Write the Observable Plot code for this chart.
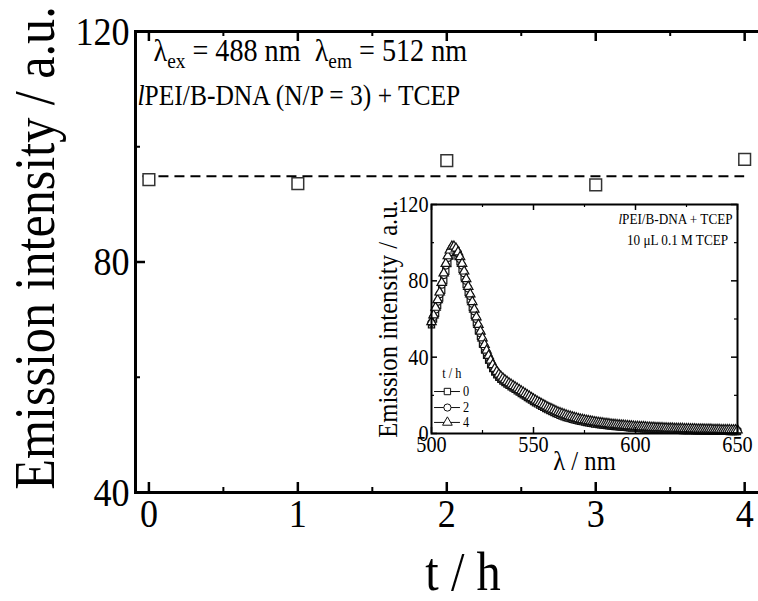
<!DOCTYPE html>
<html>
<head>
<meta charset="utf-8">
<script src="https://cdn.jsdelivr.net/npm/d3@7"></script>
<script src="https://cdn.jsdelivr.net/npm/@observablehq/plot@0.6"></script>
<style>
  body { margin: 0; background: white; }
  #wrap { position: relative; width: 758px; height: 601px; overflow: hidden; background: white; }
  #wrap svg { position: absolute; }
</style>
</head>
<body>
<div id="wrap"></div>
<script>
// ---------- Main chart data ----------
const timeH = [0, 1, 2, 3, 4];
const emission = [94.3, 93.6, 97.6, 93.4, 97.8];
const meanLevel = 94.9;
const xTickLabels = [0, 1, 2, 3, 4];
const yTickLabels = [40, 80, 120];

// ---------- Inset data (spectra) ----------
const wavelength = [500,501,502,503,504,505,506,507,508,509,510,511,512,513,514,515,516,517,518,519,
520,521,522,523,524,525,526,527,528,529,530,531,532,533,534,535,536,537,538,539,
540,541,542,543,544,545,546,547,548,549,550,551,552,553,554,555,556,557,558,559,
560,561,562,563,564,565,566,567,568,569,570,571,572,573,574,575,576,577,578,579,
580,581,582,583,584,585,586,587,588,589,590,591,592,593,594,595,596,597,598,599,
600,601,602,603,604,605,606,607,608,609,610,611,612,613,614,615,616,617,618,619,
620,621,622,623,624,625,626,627,628,629,630,631,632,633,634,635,636,637,638,639,
640,641,642,643,644,645,646,647,648,649,650];
const spec0h = [57,60,63,67,71,75,80,85,89,93,
95,96,95,93,90,86,82,78,74,70,
66,62,58,54,51,47,44,41,38.5,36,
34,32.2,30.7,29.5,28.4,27.5,26.7,25.9,25.2,24.5,
23.8,23.1,22.4,21.7,21,20.3,19.6,18.9,18.2,17.5,
16.8,16.1,15.5,14.9,14.3,13.7,13.1,12.5,12,11.5,
11,10.5,10,9.6,9.2,8.8,8.4,8.1,7.8,7.5,
7.2,6.9,6.7,6.4,6.2,6,5.8,5.6,5.4,5.2,
5,4.9,4.7,4.6,4.4,4.3,4.2,4,3.9,3.8,
3.7,3.6,3.5,3.4,3.3,3.2,3.1,3,2.9,2.8,
2.8,2.7,2.6,2.6,2.5,2.4,2.4,2.3,2.3,2.2,
2.2,2.1,2.1,2,2,1.9,1.9,1.9,1.8,1.8,
1.7,1.7,1.7,1.6,1.6,1.6,1.5,1.5,1.5,1.4,
1.4,1.4,1.4,1.3,1.3,1.3,1.3,1.2,1.2,1.2,
1.2,1.1,1.1,1.1,1.1,1.1,1,1,1,1,1];
const spec2h = [58,61,65,69,73,78,83,88,92,95,
97,97.5,96.5,94.5,91.5,88,84,80,76,72,
68,64,60,56,52.5,49,45.5,42.5,40,37.5,
35.3,33.4,31.8,30.5,29.4,28.4,27.6,26.8,26.1,25.4,
24.7,24,23.3,22.6,21.9,21.2,20.5,19.8,19.1,18.4,
17.7,17,16.4,15.8,15.2,14.6,14,13.4,12.9,12.4,
11.9,11.4,10.9,10.5,10.1,9.7,9.3,8.9,8.6,8.3,
8,7.7,7.4,7.1,6.9,6.7,6.5,6.3,6.1,5.9,
5.7,5.5,5.4,5.2,5.1,4.9,4.8,4.7,4.5,4.4,
4.3,4.2,4.1,4,3.9,3.8,3.7,3.6,3.5,3.4,
3.3,3.3,3.2,3.1,3.1,3,2.9,2.9,2.8,2.8,
2.7,2.7,2.6,2.6,2.5,2.5,2.4,2.4,2.4,2.3,
2.3,2.2,2.2,2.2,2.1,2.1,2.1,2,2,2,
1.9,1.9,1.9,1.9,1.8,1.8,1.8,1.8,1.7,1.7,
1.7,1.7,1.6,1.6,1.6,1.6,1.6,1.5,1.5,1.5,1.5];
const spec4h = [58.5,62,66,70,74,79,84,89,93,96,
98,98,97,95,92.5,89,85,81,77,73,
69,65,61,57,53.5,50,46.5,43.5,40.8,38.3,
36,34,32.4,31,29.9,28.9,28,27.2,26.4,25.7,
25,24.3,23.6,22.9,22.2,21.5,20.8,20.1,19.4,18.7,
18,17.3,16.7,16.1,15.5,14.9,14.3,13.7,13.2,12.7,
12.2,11.7,11.2,10.8,10.4,10,9.6,9.2,8.9,8.6,
8.3,8,7.7,7.4,7.2,7,6.8,6.6,6.4,6.2,
6,5.8,5.7,5.5,5.4,5.2,5.1,5,4.8,4.7,
4.6,4.5,4.4,4.3,4.2,4.1,4,3.9,3.8,3.7,
3.6,3.6,3.5,3.4,3.4,3.3,3.2,3.2,3.1,3.1,
3,3,2.9,2.9,2.8,2.8,2.7,2.7,2.7,2.6,
2.6,2.5,2.5,2.5,2.4,2.4,2.4,2.3,2.3,2.3,
2.2,2.2,2.2,2.2,2.1,2.1,2.1,2.1,2,2,
2,2,1.9,1.9,1.9,1.9,1.9,1.8,1.8,1.8,1.8];
const insetXTicks = [500, 550, 600, 650];
const insetYTicks = [0, 40, 80, 120];
const legendLabels = ["0", "2", "4"];
const legendSymbols = ["square", "circle", "triangle"];

// ---------- helpers ----------
const FONT = '"Liberation Serif", "Times New Roman", Times, serif';
const K = 0.88; // horizontal text compression of the original figure

function compress(svg) {
  svg.querySelectorAll("text").forEach(t => {
    let tr = t.getAttribute("transform");
    if (!tr) {
      const x = t.getAttribute("x");
      const xv = parseFloat(x);
      if (x != null && !/em$/.test(x) && !isNaN(xv)) {
        t.removeAttribute("x");
        tr = `translate(${xv},0)`;
      } else tr = "";
    }
    t.setAttribute("transform", `${tr} scale(${K},1)`.trim());
  });
}
function richText(svg, plain, parts) {
  svg.querySelectorAll("text").forEach(t => {
    if (t.textContent !== plain) return;
    t.textContent = "";
    t.style.whiteSpace = "pre";
    for (const p of parts) {
      const s = document.createElementNS("http://www.w3.org/2000/svg", "tspan");
      s.textContent = p.text;
      if (p.italic) s.setAttribute("font-style", "italic");
      if (p.size) s.setAttribute("font-size", p.size);
      if (p.dy) s.setAttribute("dy", p.dy);
      t.appendChild(s);
    }
  });
}

// ---------- main chart ----------
const FH = 461; // frame height in px (31..492)
const FW = 633; // frame width in px (135..768)
const mainPts = timeH.map((t, i) => ({t, v: emission[i]}));
const line1 = "λex = 488 nm  λem = 512 nm";
const line2 = "lPEI/B-DNA (N/P = 3) + TCEP";

const main = Plot.plot({
  width: 758, height: 601,
  marginLeft: 135, marginRight: -10, marginTop: 31, marginBottom: 109,
  x: {domain: [-0.09, 4.16]},
  y: {domain: [40, 120]},
  style: {fontFamily: FONT, fontSize: "41px", color: "black", background: "white"},
  marks: [
    Plot.frame({stroke: "black", strokeWidth: 3}),
    // inward ticks
    Plot.tickX(xTickLabels, {x: d => d, insetTop: FH - 10, stroke: "black", strokeWidth: 2.5}),
    Plot.tickX([0.5, 1.5, 2.5, 3.5], {x: d => d, insetTop: FH - 5, stroke: "black", strokeWidth: 2}),
    Plot.tickX(xTickLabels, {x: d => d, insetBottom: FH - 10, stroke: "black", strokeWidth: 2.5}),
    Plot.tickX([0.5, 1.5, 2.5, 3.5], {x: d => d, insetBottom: FH - 5, stroke: "black", strokeWidth: 2}),
    Plot.tickY([80], {y: d => d, insetRight: FW - 10, stroke: "black", strokeWidth: 2.5}),
    Plot.tickY([60, 100], {y: d => d, insetRight: FW - 5, stroke: "black", strokeWidth: 2}),
    Plot.axisX({ticks: xTickLabels, tickFormat: d => String(d), tickSize: 0, tickPadding: 5, label: null, fontSize: 41}),
    Plot.axisY({ticks: yTickLabels, tickFormat: d => String(d), tickSize: 0, tickPadding: 6, label: null, fontSize: 41}),
    // axis titles
    Plot.text(["t / h"], {frameAnchor: "bottom", textAnchor: "middle", dx: 11, dy: 80, fontSize: 55, lineAnchor: "middle"}),
    Plot.text(["Emission intensity / a.u."], {frameAnchor: "left", textAnchor: "middle", rotate: -90, dx: -100, dy: -14, fontSize: 57, lineAnchor: "middle"}),
    // annotations
    Plot.text([line1], {frameAnchor: "top-left", textAnchor: "start", dx: 18, dy: 19, fontSize: 32, lineAnchor: "middle"}),
    Plot.text([line2], {frameAnchor: "top-left", textAnchor: "start", dx: 2, dy: 64, fontSize: 29, lineAnchor: "middle"}),
    // data
    Plot.ruleY([meanLevel], {x1: -0.04, x2: 4, stroke: "black", strokeWidth: 2, strokeDasharray: "10,6"}),
    Plot.dot(mainPts, {x: "t", y: "v", symbol: "square", r: 6.6, stroke: "#333", strokeWidth: 1.5, fill: "white"})
  ]
});
main.style.left = "0px"; main.style.top = "0px";
document.getElementById("wrap").appendChild(main);
richText(main, line1, [
  {text: "λ"}, {text: "ex", size: "22px", dy: "7"}, {text: " = 488 nm  λ", dy: "-7"},
  {text: "em", size: "22px", dy: "7"}, {text: " = 512 nm", dy: "-7"}
]);
richText(main, line2, [{text: "l", italic: true}, {text: "PEI/B-DNA (N/P = 3) + TCEP"}]);
compress(main);

// ---------- inset ----------
const IH = 229, IW = 306;
const series = [
  {key: "0", sym: "square", vals: spec0h},
  {key: "2", sym: "circle", vals: spec2h},
  {key: "4", sym: "triangle", vals: spec4h}
];
const insetTxt1 = "lPEI/B-DNA + TCEP";
const insetTxt2 = "10 μL 0.1 M TCEP";
const legendRows = legendLabels.map((k, i) => ({k, sym: legendSymbols[i], y: [22, 13.6, 5.8][i]}));

const insetMarks = [
  Plot.frame({fill: "white", stroke: "none"}),
];
for (const s of series) {
  const pts = wavelength.map((w, i) => ({w, v: s.vals[i]}));
  insetMarks.push(Plot.dot(pts, {x: "w", y: "v", symbol: s.sym, r: 3.5, stroke: "#111", strokeWidth: 1.2, fill: "white"}));
}
insetMarks.push(
  Plot.frame({stroke: "black", strokeWidth: 2}),
  Plot.tickX(insetXTicks, {x: d => d, insetTop: IH - 6, stroke: "black", strokeWidth: 1.5}),
  Plot.tickX([525, 575, 625], {x: d => d, insetTop: IH - 3, stroke: "black", strokeWidth: 1.2}),
  Plot.tickX(insetXTicks, {x: d => d, insetBottom: IH - 6, stroke: "black", strokeWidth: 1.5}),
  Plot.tickX([525, 575, 625], {x: d => d, insetBottom: IH - 3, stroke: "black", strokeWidth: 1.2}),
  Plot.tickY(insetYTicks, {y: d => d, insetRight: IW - 6, stroke: "black", strokeWidth: 1.5}),
  Plot.tickY([20, 60, 100], {y: d => d, insetRight: IW - 3, stroke: "black", strokeWidth: 1.2}),
  Plot.tickY(insetYTicks, {y: d => d, insetLeft: IW - 6, stroke: "black", strokeWidth: 1.5}),
  Plot.tickY([20, 60, 100], {y: d => d, insetLeft: IW - 3, stroke: "black", strokeWidth: 1.2}),
  Plot.axisX({ticks: insetXTicks, tickFormat: d => String(d), tickSize: 0, tickPadding: 2, label: null, fontSize: 23}),
  Plot.axisY({ticks: insetYTicks, tickFormat: d => String(d), tickSize: 0, tickPadding: 3, label: null, fontSize: 23}),
  Plot.text(["λ / nm"], {frameAnchor: "bottom", textAnchor: "middle", dy: 28, fontSize: 28, lineAnchor: "middle"}),
  Plot.text(["Emission intensity / a.u."], {frameAnchor: "left", textAnchor: "middle", rotate: -90, dx: -43, fontSize: 28, lineAnchor: "middle"}),
  Plot.text([insetTxt1], {frameAnchor: "top-right", textAnchor: "middle", dx: -62, dy: 15, fontSize: 15, lineAnchor: "middle"}),
  Plot.text([insetTxt2], {frameAnchor: "top-right", textAnchor: "middle", dx: -60, dy: 36, fontSize: 15, lineAnchor: "middle"}),
  // legend
  Plot.text(["t / h"], {x: () => 510, y: () => 31.5, fontSize: 14, lineAnchor: "middle"}),
  Plot.ruleY(legendRows, {y: "y", x1: 501.5, x2: 514.2, stroke: "#111", strokeWidth: 1}),
  Plot.dot(legendRows, {x: () => 507.8, y: "y", symbol: "sym", r: 3.6, stroke: "#111", strokeWidth: 1, fill: "white"}),
  Plot.text(legendRows, {x: () => 515.5, y: "y", text: "k", textAnchor: "start", fontSize: 14, lineAnchor: "middle"})
);

const inset = Plot.plot({
  width: 403, height: 286,
  marginLeft: 76, marginRight: 21, marginTop: 9, marginBottom: 48,
  x: {domain: [500, 650]},
  y: {domain: [0, 120]},
  symbol: {type: "identity"},
  style: {fontFamily: FONT, fontSize: "23px", color: "black", background: "transparent", overflow: "visible"},
  marks: insetMarks
});
inset.style.left = "355px"; inset.style.top = "195px";
document.getElementById("wrap").appendChild(inset);
richText(inset, insetTxt1, [{text: "l", italic: true}, {text: "PEI/B-DNA + TCEP"}]);
compress(inset);
</script>
</body>
</html>
